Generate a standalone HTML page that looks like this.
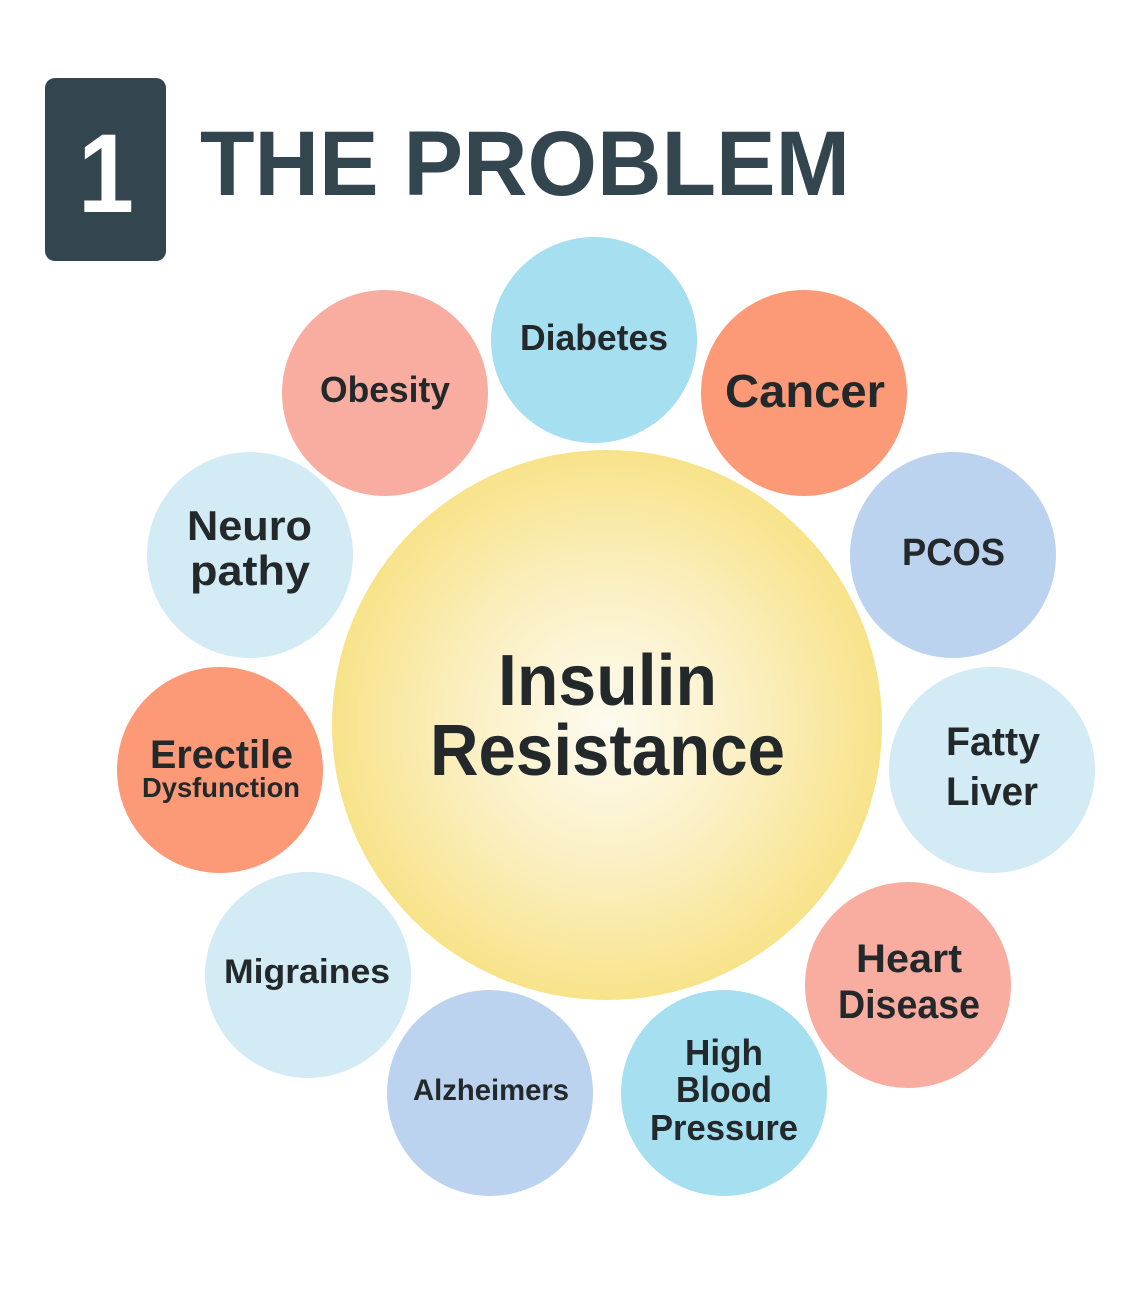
<!DOCTYPE html>
<html><head><meta charset="utf-8"><style>
html,body{margin:0;padding:0;background:#fff;}
svg{display:block;}
text{font-family:"Liberation Sans",sans-serif;font-weight:bold;fill:#23282b;}
</style></head><body>
<svg width="1125" height="1312" viewBox="0 0 1125 1312" xmlns="http://www.w3.org/2000/svg">
<defs>
<radialGradient id="g" cx="0.5" cy="0.5" r="0.5">
<stop offset="0" stop-color="#fdfbf0"/>
<stop offset="0.5" stop-color="#fbf0c4"/>
<stop offset="1" stop-color="#f8e38a"/>
</radialGradient>
</defs>
<rect width="1125" height="1312" fill="#fff"/>
<rect x="45" y="78" width="121" height="183" rx="10" fill="#334650"/>
<text x="78" y="212" font-size="112" textLength="56" lengthAdjust="spacingAndGlyphs" style="fill:#fff">1</text>
<text x="200" y="195" font-size="92" textLength="650" lengthAdjust="spacingAndGlyphs" style="fill:#334650">THE PROBLEM</text>

<circle cx="607" cy="725" r="275" fill="url(#g)"/>
<circle cx="594" cy="340" r="103" fill="#a6dff0"/>
<circle cx="385" cy="393" r="103" fill="#f9ada0"/>
<circle cx="804" cy="393" r="103" fill="#fc9a78"/>
<circle cx="250" cy="555" r="103" fill="#d3ebf4"/>
<circle cx="953" cy="555" r="103" fill="#bcd3ef"/>
<circle cx="220" cy="770" r="103" fill="#fc9a78"/>
<circle cx="992" cy="770" r="103" fill="#d3ebf4"/>
<circle cx="308" cy="975" r="103" fill="#d3ebf4"/>
<circle cx="908" cy="985" r="103" fill="#f9ada0"/>
<circle cx="490" cy="1093" r="103" fill="#bcd3ef"/>
<circle cx="724" cy="1093" r="103" fill="#a6dff0"/>

<text x="498" y="705" font-size="72" textLength="219" lengthAdjust="spacingAndGlyphs">Insulin</text>
<text x="430" y="775" font-size="72" textLength="355" lengthAdjust="spacingAndGlyphs">Resistance</text>
<text x="520" y="350" font-size="36" textLength="148" lengthAdjust="spacingAndGlyphs">Diabetes</text>
<text x="320" y="402" font-size="36" textLength="130" lengthAdjust="spacingAndGlyphs">Obesity</text>
<text x="725" y="407" font-size="46" textLength="160" lengthAdjust="spacingAndGlyphs">Cancer</text>
<text x="187" y="540" font-size="42" textLength="125" lengthAdjust="spacingAndGlyphs">Neuro</text>
<text x="190" y="585" font-size="42" textLength="120" lengthAdjust="spacingAndGlyphs">pathy</text>
<text x="902" y="565" font-size="38" textLength="103" lengthAdjust="spacingAndGlyphs">PCOS</text>
<text x="946" y="755" font-size="40" textLength="94" lengthAdjust="spacingAndGlyphs">Fatty</text>
<text x="946" y="805" font-size="40" textLength="92" lengthAdjust="spacingAndGlyphs">Liver</text>
<text x="150" y="768" font-size="40" textLength="143" lengthAdjust="spacingAndGlyphs">Erectile</text>
<text x="142" y="797" font-size="28" textLength="158" lengthAdjust="spacingAndGlyphs">Dysfunction</text>
<text x="224" y="983" font-size="34" textLength="166" lengthAdjust="spacingAndGlyphs">Migraines</text>
<text x="856" y="972" font-size="40" textLength="106" lengthAdjust="spacingAndGlyphs">Heart</text>
<text x="838" y="1018" font-size="40" textLength="142" lengthAdjust="spacingAndGlyphs">Disease</text>
<text x="413" y="1100" font-size="30" textLength="156" lengthAdjust="spacingAndGlyphs">Alzheimers</text>
<text x="685" y="1065" font-size="36" textLength="78" lengthAdjust="spacingAndGlyphs">High</text>
<text x="676" y="1102" font-size="36" textLength="96" lengthAdjust="spacingAndGlyphs">Blood</text>
<text x="650" y="1140" font-size="36" textLength="148" lengthAdjust="spacingAndGlyphs">Pressure</text>
</svg>
</body></html>
